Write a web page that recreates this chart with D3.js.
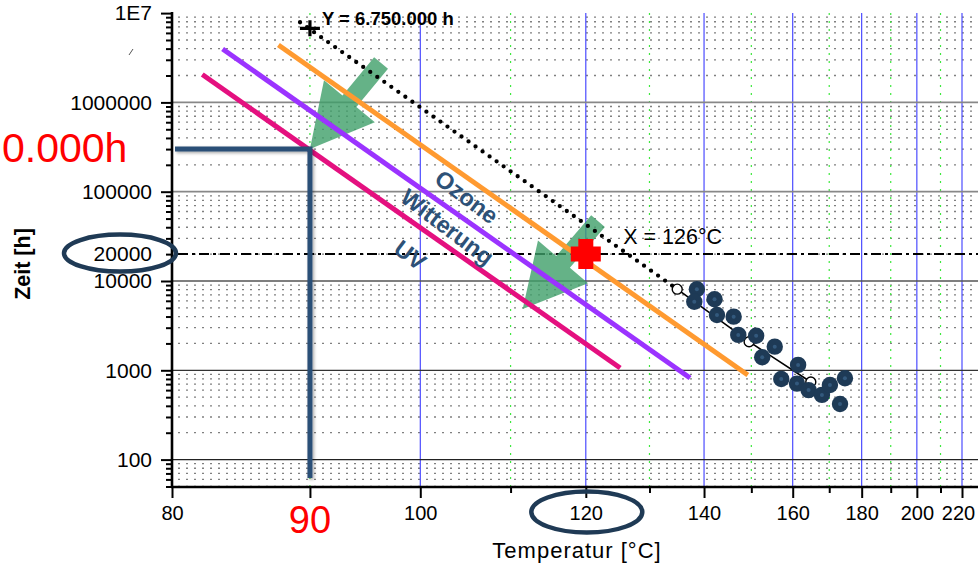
<!DOCTYPE html>
<html><head><meta charset="utf-8">
<script src="https://cdn.jsdelivr.net/npm/d3@7"></script>
<style>
html,body{margin:0;padding:0;background:#fff;overflow:hidden;}
svg{display:block;font-family:"Liberation Sans",Arial,sans-serif;}
</style></head><body>
<svg id="chart" width="978" height="564"></svg>
<script>
// ---------- data ----------
const xTicksMajor = [80, 100, 120, 140, 160, 180, 200, 220];
const xTicksMinor = [90, 110, 130, 150, 170, 190, 210];
const xTickLabels = ["80", "100", "120", "140", "160", "180", "200", "220"];
const yTicksMajor = [100, 1000, 10000, 100000, 1000000, 10000000];
const yTickLabels = ["100", "1000", "10000", "100000", "1000000", "1E7"];

// measured points (temperature °C, time h)
const measuredT = [138.6, 138.1, 142.1, 142.6, 146.1, 147.1, 151.1, 155.5, 152.5, 161.4, 157.1, 161.1, 164.2, 167.9, 170.2, 174.7, 173.2];
const measuredH = [8070, 5860, 6240, 4160, 3990, 2490, 2440, 1840, 1400, 1150, 800, 710, 600, 530, 685, 815, 420];

// regression (fit) line with open circles
const fitT = [134.9, 149.5, 164.8];
const fitH = [8100, 2090, 740];

// extrapolation (dotted)
const extraT = [89.2, 134.9];
const extraH = [7.9e6, 8100];

// ageing lines
const seriesNames = ["UV", "Witterung", "Ozone"];
const seriesColors = ["#e4107f", "#9b33ff", "#ff9a30"];
const uvT = [82.0, 125.2], uvH = [2.05e6, 1060];
const witT = [83.4, 137.3], witH = [3.96e6, 820];
const ozT = [87.5, 149.2], ozH = [4.4e6, 886];
const labelT = [99.0, 102.8, 104.9];
const labelH = [19550, 40260, 87300];

// annotations
const targetH = 20000;          // dashed line
const crossT = 120, crossH = 20000;   // red cross
const extraPointT = 90, extraPointH = 6.75e6;  // black cross
const xLabelT = 126;
const guideT = 90, guideH = 300000;
const arrowTail = [[96.2, 2.76e6], [121.8, 46950]];
const arrowTip = [[90, 300000], [111.5, 4860]];

// ---------- scales ----------
const svg = d3.select("#chart");
const pL = 172, pB = 487, pT = 13, pR = 1000;
const xs = d3.scaleLinear().domain([1/80, 1/220]).range([172, 962]);
const x = t => xs(1/t);
const y = d3.scaleLog().domain([100, 1e7]).range([459.6, 13.1]);

const defs = svg.append("defs");
const f = defs.append("filter").attr("id","sh").attr("x","-50%").attr("y","-50%").attr("width","200%").attr("height","200%");
f.append("feDropShadow").attr("dx",1.5).attr("dy",1.5).attr("stdDeviation",1.5).attr("flood-color","#000").attr("flood-opacity",0.35);

// ---------- grid ----------
const g = svg.append("g");
const minorY = [];
for (let e = 1; e <= 6; e++) for (let m = 2; m <= 9; m++) { const v = m * Math.pow(10, e); if (v >= 50 && v < 1e7) minorY.push(v); }
g.selectAll(".hm").data(minorY).enter().append("line")
  .attr("x1", pL + 6).attr("x2", pR).attr("y1", d => y(d)).attr("y2", d => y(d))
  .attr("stroke", "#808080").attr("stroke-width", 1.3).attr("stroke-dasharray", "2,6");
g.selectAll(".vm").data(xTicksMinor).enter().append("line")
  .attr("x1", d => x(d)).attr("x2", d => x(d)).attr("y1", pT).attr("y2", pB)
  .attr("stroke", "#3ee83e").attr("stroke-width", 1.2).attr("stroke-dasharray", "2,6");
g.selectAll(".vM").data(xTicksMajor.slice(1)).enter().append("line")
  .attr("x1", d => x(d)).attr("x2", d => x(d)).attr("y1", pT).attr("y2", pB)
  .attr("stroke", "#3b3bff").attr("stroke-width", 1.1);
const majColors = {100:"#222",1000:"#333",10000:"#555",100000:"#888",1000000:"#888"};
g.selectAll(".hM").data(yTicksMajor.slice(0,5)).enter().append("line")
  .attr("x1", pL).attr("x2", pR).attr("y1", d => y(d)).attr("y2", d => y(d))
  .attr("stroke", d => majColors[d]).attr("stroke-width", d => d >= 100000 ? 1.8 : 1.3);

// dashed target line
svg.append("line").attr("x1", 178).attr("x2", pR).attr("y1", y(targetH)).attr("y2", y(targetH))
  .attr("stroke", "#000").attr("stroke-width", 2).attr("stroke-dasharray", "10,4,3,4");

// ---------- arrows ----------
function arrowPath(t0, t1) {
  const x0 = x(t0[0]), y0 = y(t0[1]), x1 = x(t1[0]), y1 = y(t1[1]);
  const dx = x1 - x0, dy = y1 - y0, L = Math.hypot(dx, dy);
  const ux = dx / L, uy = dy / L, nx = -uy, ny = ux;
  const sw = 9, hw = 33, hl = 62;
  const bx = x1 - ux * hl, by = y1 - uy * hl;
  const p = [[x0 + nx*sw, y0 + ny*sw], [bx + nx*sw, by + ny*sw], [bx + nx*hw, by + ny*hw], [x1, y1],
             [bx - nx*hw, by - ny*hw], [bx - nx*sw, by - ny*sw], [x0 - nx*sw, y0 - ny*sw]];
  return "M" + p.map(q => q.join(",")).join("L") + "Z";
}
svg.selectAll(".arrow").data(d3.range(arrowTail.length)).enter().append("path")
  .attr("d", i => arrowPath(arrowTail[i], arrowTip[i]))
  .attr("fill", "#3f9f69").attr("fill-opacity", 0.8);

// ---------- ageing lines ----------
const lineGen = d3.line().x(d => x(d[0])).y(d => y(d[1]));
const seriesData = [d3.zip(uvT, uvH), d3.zip(witT, witH), d3.zip(ozT, ozH)];
svg.selectAll(".ser").data(seriesData).enter().append("path")
  .attr("d", lineGen).attr("fill", "none")
  .attr("stroke", (d, i) => seriesColors[i]).attr("stroke-width", 5);

svg.append("path").attr("d", lineGen(d3.zip(extraT, extraH))).attr("fill", "none")
  .attr("stroke", "#000").attr("stroke-width", 4.3).attr("stroke-linecap", "round").attr("stroke-dasharray", "0,8.6");

svg.append("path").attr("d", lineGen(d3.zip(fitT, fitH))).attr("fill", "none")
  .attr("stroke", "#000").attr("stroke-width", 1.6);
svg.selectAll(".oc").data(d3.zip(fitT, fitH)).enter().append("circle")
  .attr("cx", d => x(d[0])).attr("cy", d => y(d[1])).attr("r", 5)
  .attr("fill", "#fff").attr("stroke", "#000").attr("stroke-width", 1.4);

const pts = d3.zip(measuredT, measuredH);
svg.selectAll(".pt").data(pts).enter().append("circle")
  .attr("cx", d => x(d[0])).attr("cy", d => y(d[1])).attr("r", 8.2).attr("fill", "#1e3a56");
svg.selectAll(".pc").data(pts).enter().append("circle")
  .attr("cx", d => x(d[0])).attr("cy", d => y(d[1])).attr("r", 2).attr("fill", "#33597d");

{
  const cx = x(crossT), cy = y(crossH), a = 15, b = 7.5;
  svg.append("path").attr("d", `M${cx-b},${cy-a}H${cx+b}V${cy-b}H${cx+a}V${cy+b}H${cx+b}V${cy+a}H${cx-b}V${cy+b}H${cx-a}V${cy-b}H${cx-b}Z`)
    .attr("fill", "#ff0000");
}
{
  const cx = x(extraPointT), cy = y(extraPointH);
  svg.append("path").attr("d", `M${cx-10},${cy}H${cx+10}M${cx},${cy-8}V${cy+8}`)
    .attr("stroke", "#000").attr("stroke-width", 3.2);
}

// ---------- axes ----------
const xAxis = d3.axisBottom(xs).tickValues(xTicksMajor.map(t => 1/t))
  .tickFormat((d, i) => xTickLabels[i]).tickSize(11).tickPadding(8);
const gx = svg.append("g").attr("transform", `translate(0,${pB})`).call(xAxis);
gx.select(".domain").remove();
gx.selectAll(".tick line").attr("stroke", "#000").attr("stroke-width", 2);
gx.selectAll(".tick text").attr("font-size", 20).attr("fill", "#000")
  .style("font-family", "'Liberation Sans',Arial,sans-serif")
  .attr("dx", (d, i) => i === xTicksMajor.length - 1 ? -4 : 0);
const xAxisMinor = d3.axisBottom(xs).tickValues(xTicksMinor.map(t => 1/t)).tickFormat("").tickSize(6);
const gxm = svg.append("g").attr("transform", `translate(0,${pB})`).call(xAxisMinor);
gxm.select(".domain").remove();
gxm.selectAll(".tick line").attr("stroke", "#000").attr("stroke-width", 2);
gxm.selectAll(".tick").filter(d => Math.abs(1/d - 90) < 0.01).select("line").attr("y2", 11);

const yAxis = d3.axisLeft(y).tickValues(yTicksMajor).tickFormat((d, i) => yTickLabels[i]).tickSize(11).tickPadding(9);
const gy = svg.append("g").attr("transform", `translate(${pL},0)`).call(yAxis);
gy.select(".domain").remove();
gy.selectAll(".tick line").attr("stroke", "#000").attr("stroke-width", 2);
gy.selectAll(".tick text").attr("font-size", 21).attr("fill", "#000")
  .style("font-family", "'Liberation Sans',Arial,sans-serif");
const yAxisMinor = d3.axisLeft(y).tickValues(minorY).tickFormat("").tickSize(6);
const gym = svg.append("g").attr("transform", `translate(${pL},0)`).call(yAxisMinor);
gym.select(".domain").remove();
gym.selectAll(".tick line").attr("stroke", "#000").attr("stroke-width", 2);

svg.append("line").attr("x1", pL).attr("x2", pL).attr("y1", pT - 1).attr("y2", pB + 1)
  .attr("stroke", "#000").attr("stroke-width", 2.6);
svg.append("line").attr("x1", pL - 1).attr("x2", pR).attr("y1", pB).attr("y2", pB)
  .attr("stroke", "#000").attr("stroke-width", 2.6);

svg.append("text").attr("x", 577).attr("y", 558).attr("text-anchor", "middle")
  .attr("font-size", 22).attr("letter-spacing", 1).text("Temperatur [°C]");
svg.append("text").attr("transform", "translate(30,264) rotate(-90)").attr("text-anchor", "middle")
  .attr("font-size", 21.5).attr("font-weight", "bold").text("Zeit [h]");

// ---------- guide lines ----------
const gx90 = x(guideT), gy3 = y(guideH);
svg.append("path").attr("d", `M175,${gy3}H${gx90}V478`).attr("fill", "none")
  .attr("stroke", "#2c5077").attr("stroke-width", 5).attr("filter", "url(#sh)");

const angles = seriesData.map(d => Math.atan2(y(d[1][1]) - y(d[0][1]), x(d[1][0]) - x(d[0][0])) * 180 / Math.PI);
svg.selectAll(".sl").data(seriesNames).enter().append("text")
  .attr("transform", (d, i) => `translate(${x(labelT[i])},${y(labelH[i])}) rotate(${angles[i] + 2})`)
  .attr("text-anchor", "middle").attr("dy", "0.35em")
  .attr("font-size", 23.5).attr("font-weight", "bold").attr("fill", "#2d5177").text(d => d);

svg.append("text").attr("x", x(extraPointT) + 12).attr("y", 25).attr("font-size", 18.5).attr("font-weight", "bold")
  .text("Y = 6.750.000 h");
svg.append("text").attr("x", x(xLabelT) - 2).attr("y", 244).attr("font-size", 21.5).text(`X = ${xLabelT}°C`);
svg.append("text").attr("x", 152).attr("y", y(targetH)).attr("dy", "0.35em").attr("text-anchor", "end")
  .attr("font-size", 21).text("20000");
svg.append("text").attr("x", 2).attr("y", 162).attr("text-anchor", "start").attr("font-size", 41)
  .attr("fill", "#ff0000").text("0.000h");
svg.append("text").attr("x", gx90).attr("y", 533).attr("text-anchor", "middle").attr("font-size", 38)
  .attr("fill", "#ff0000").text("90");
svg.append("line").attr("x1", 129).attr("y1", 55).attr("x2", 133).attr("y2", 49).attr("stroke", "#555").attr("stroke-width", 1);

svg.append("ellipse").attr("cx", 120).attr("cy", y(targetH) - 1).attr("rx", 56).attr("ry", 18.5)
  .attr("fill", "none").attr("stroke", "#1f3a55").attr("stroke-width", 4.5);
svg.append("ellipse").attr("cx", x(crossT) + 1).attr("cy", 512).attr("rx", 55.5).attr("ry", 20.5)
  .attr("fill", "none").attr("stroke", "#1f3a55").attr("stroke-width", 4.5);
</script>
</body></html>
